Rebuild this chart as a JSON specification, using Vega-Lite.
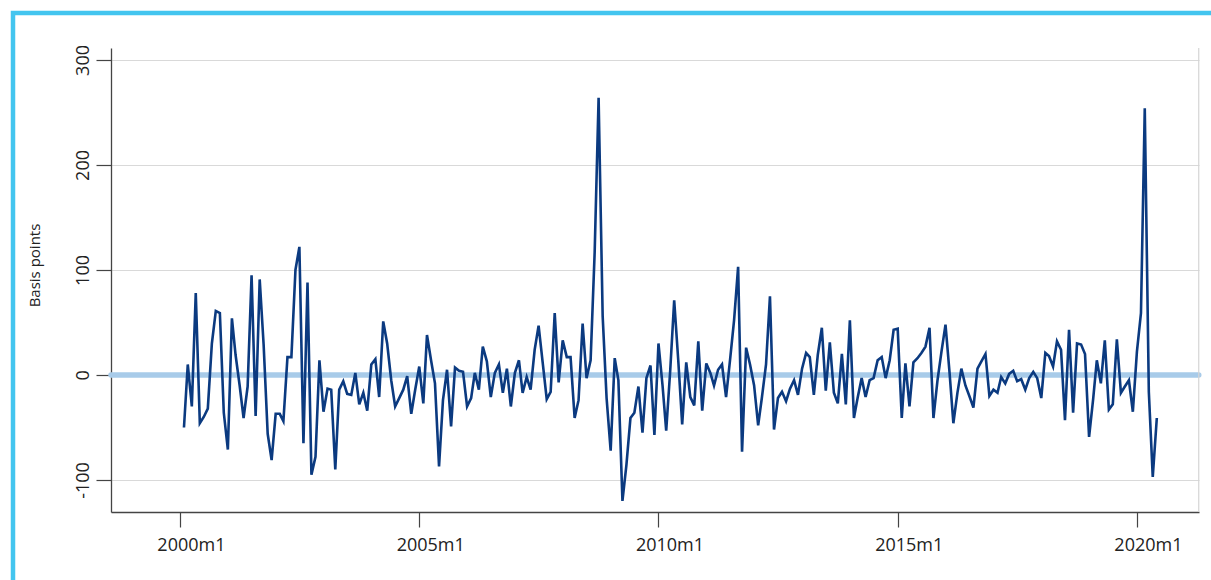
{
  "$schema": "https://vega.github.io/schema/vega-lite/v6.json",
  "width": 1240,
  "height": 600,
  "autosize": {"type": "none"},
  "padding": {"left": 13, "top": 13, "right": -42, "bottom": -33},
  "background": "white",
  "config": {
    "view": {"stroke": "#43c5ef", "strokeWidth": 4.5},
    "font": "Open Sans"
  },
  "layer": [
    {
      "data": {"values": [{"zero": 0}]},
      "mark": {"type": "rule", "color": "#a8cbe9", "strokeWidth": 5.5, "strokeCap": "round"},
      "encoding": {
        "y": {"field": "zero", "type": "quantitative"},
        "x": {"datum": {"year": 1998, "month": 7, "date": 24, "utc": true}, "type": "temporal"},
        "x2": {"datum": {"year": 2021, "month": 4, "date": 17, "utc": true}}
      }
    },
    {
      "data": {"values": [
        {"date": "2000-02-01", "bp": -50}, {"date": "2000-03-01", "bp": 10}, {"date": "2000-04-01", "bp": -30}, {"date": "2000-05-01", "bp": 78}, {"date": "2000-06-01", "bp": -46}, {"date": "2000-07-01", "bp": -40}, {"date": "2000-08-01", "bp": -32}, {"date": "2000-09-01", "bp": 30}, {"date": "2000-10-01", "bp": 61}, {"date": "2000-11-01", "bp": 59}, {"date": "2000-12-01", "bp": -36},
        {"date": "2001-01-01", "bp": -71}, {"date": "2001-02-01", "bp": 54}, {"date": "2001-03-01", "bp": 19}, {"date": "2001-04-01", "bp": -10}, {"date": "2001-05-01", "bp": -41}, {"date": "2001-06-01", "bp": -11}, {"date": "2001-07-01", "bp": 95}, {"date": "2001-08-01", "bp": -39}, {"date": "2001-09-01", "bp": 91}, {"date": "2001-10-01", "bp": 29}, {"date": "2001-11-01", "bp": -56}, {"date": "2001-12-01", "bp": -81},
        {"date": "2002-01-01", "bp": -37}, {"date": "2002-02-01", "bp": -37}, {"date": "2002-03-01", "bp": -44}, {"date": "2002-04-01", "bp": 17}, {"date": "2002-05-01", "bp": 17}, {"date": "2002-06-01", "bp": 100}, {"date": "2002-07-01", "bp": 122}, {"date": "2002-08-01", "bp": -65}, {"date": "2002-09-01", "bp": 88}, {"date": "2002-10-01", "bp": -95}, {"date": "2002-11-01", "bp": -78}, {"date": "2002-12-01", "bp": 14},
        {"date": "2003-01-01", "bp": -35}, {"date": "2003-02-01", "bp": -13}, {"date": "2003-03-01", "bp": -14}, {"date": "2003-04-01", "bp": -90}, {"date": "2003-05-01", "bp": -14}, {"date": "2003-06-01", "bp": -6}, {"date": "2003-07-01", "bp": -18}, {"date": "2003-08-01", "bp": -19}, {"date": "2003-09-01", "bp": 2}, {"date": "2003-10-01", "bp": -28}, {"date": "2003-11-01", "bp": -17}, {"date": "2003-12-01", "bp": -34},
        {"date": "2004-01-01", "bp": 10}, {"date": "2004-02-01", "bp": 15}, {"date": "2004-03-01", "bp": -21}, {"date": "2004-04-01", "bp": 51}, {"date": "2004-05-01", "bp": 30}, {"date": "2004-06-01", "bp": -5}, {"date": "2004-07-01", "bp": -30}, {"date": "2004-08-01", "bp": -22}, {"date": "2004-09-01", "bp": -14}, {"date": "2004-10-01", "bp": -1}, {"date": "2004-11-01", "bp": -37}, {"date": "2004-12-01", "bp": -14},
        {"date": "2005-01-01", "bp": 8}, {"date": "2005-02-01", "bp": -27}, {"date": "2005-03-01", "bp": 38}, {"date": "2005-04-01", "bp": 14}, {"date": "2005-05-01", "bp": -8}, {"date": "2005-06-01", "bp": -87}, {"date": "2005-07-01", "bp": -24}, {"date": "2005-08-01", "bp": 5}, {"date": "2005-09-01", "bp": -49}, {"date": "2005-10-01", "bp": 7}, {"date": "2005-11-01", "bp": 4}, {"date": "2005-12-01", "bp": 3},
        {"date": "2006-01-01", "bp": -30}, {"date": "2006-02-01", "bp": -22}, {"date": "2006-03-01", "bp": 2}, {"date": "2006-04-01", "bp": -14}, {"date": "2006-05-01", "bp": 27}, {"date": "2006-06-01", "bp": 13}, {"date": "2006-07-01", "bp": -21}, {"date": "2006-08-01", "bp": 2}, {"date": "2006-09-01", "bp": 10}, {"date": "2006-10-01", "bp": -17}, {"date": "2006-11-01", "bp": 6}, {"date": "2006-12-01", "bp": -30},
        {"date": "2007-01-01", "bp": 2}, {"date": "2007-02-01", "bp": 14}, {"date": "2007-03-01", "bp": -17}, {"date": "2007-04-01", "bp": -2}, {"date": "2007-05-01", "bp": -14}, {"date": "2007-06-01", "bp": 24}, {"date": "2007-07-01", "bp": 47}, {"date": "2007-08-01", "bp": 12}, {"date": "2007-09-01", "bp": -23}, {"date": "2007-10-01", "bp": -16}, {"date": "2007-11-01", "bp": 59}, {"date": "2007-12-01", "bp": -7},
        {"date": "2008-01-01", "bp": 33}, {"date": "2008-02-01", "bp": 17}, {"date": "2008-03-01", "bp": 17}, {"date": "2008-04-01", "bp": -41}, {"date": "2008-05-01", "bp": -24}, {"date": "2008-06-01", "bp": 49}, {"date": "2008-07-01", "bp": -3}, {"date": "2008-08-01", "bp": 14}, {"date": "2008-09-01", "bp": 117}, {"date": "2008-10-01", "bp": 264}, {"date": "2008-11-01", "bp": 56}, {"date": "2008-12-01", "bp": -22},
        {"date": "2009-01-01", "bp": -72}, {"date": "2009-02-01", "bp": 16}, {"date": "2009-03-01", "bp": -5}, {"date": "2009-04-01", "bp": -120}, {"date": "2009-05-01", "bp": -86}, {"date": "2009-06-01", "bp": -41}, {"date": "2009-07-01", "bp": -36}, {"date": "2009-08-01", "bp": -11}, {"date": "2009-09-01", "bp": -55}, {"date": "2009-10-01", "bp": -3}, {"date": "2009-11-01", "bp": 9}, {"date": "2009-12-01", "bp": -57},
        {"date": "2010-01-01", "bp": 30}, {"date": "2010-02-01", "bp": -10}, {"date": "2010-03-01", "bp": -53}, {"date": "2010-04-01", "bp": 5}, {"date": "2010-05-01", "bp": 71}, {"date": "2010-06-01", "bp": 14}, {"date": "2010-07-01", "bp": -47}, {"date": "2010-08-01", "bp": 12}, {"date": "2010-09-01", "bp": -21}, {"date": "2010-10-01", "bp": -29}, {"date": "2010-11-01", "bp": 32}, {"date": "2010-12-01", "bp": -34},
        {"date": "2011-01-01", "bp": 11}, {"date": "2011-02-01", "bp": 2}, {"date": "2011-03-01", "bp": -10}, {"date": "2011-04-01", "bp": 5}, {"date": "2011-05-01", "bp": 10}, {"date": "2011-06-01", "bp": -21}, {"date": "2011-07-01", "bp": 14}, {"date": "2011-08-01", "bp": 52}, {"date": "2011-09-01", "bp": 103}, {"date": "2011-10-01", "bp": -73}, {"date": "2011-11-01", "bp": 26}, {"date": "2011-12-01", "bp": 10},
        {"date": "2012-01-01", "bp": -10}, {"date": "2012-02-01", "bp": -48}, {"date": "2012-03-01", "bp": -21}, {"date": "2012-04-01", "bp": 10}, {"date": "2012-05-01", "bp": 75}, {"date": "2012-06-01", "bp": -52}, {"date": "2012-07-01", "bp": -22}, {"date": "2012-08-01", "bp": -16}, {"date": "2012-09-01", "bp": -25}, {"date": "2012-10-01", "bp": -13}, {"date": "2012-11-01", "bp": -5}, {"date": "2012-12-01", "bp": -19},
        {"date": "2013-01-01", "bp": 6}, {"date": "2013-02-01", "bp": 21}, {"date": "2013-03-01", "bp": 17}, {"date": "2013-04-01", "bp": -19}, {"date": "2013-05-01", "bp": 19}, {"date": "2013-06-01", "bp": 45}, {"date": "2013-07-01", "bp": -15}, {"date": "2013-08-01", "bp": 31}, {"date": "2013-09-01", "bp": -17}, {"date": "2013-10-01", "bp": -27}, {"date": "2013-11-01", "bp": 20}, {"date": "2013-12-01", "bp": -28},
        {"date": "2014-01-01", "bp": 52}, {"date": "2014-02-01", "bp": -41}, {"date": "2014-03-01", "bp": -22}, {"date": "2014-04-01", "bp": -3}, {"date": "2014-05-01", "bp": -21}, {"date": "2014-06-01", "bp": -5}, {"date": "2014-07-01", "bp": -3}, {"date": "2014-08-01", "bp": 14}, {"date": "2014-09-01", "bp": 17}, {"date": "2014-10-01", "bp": -3}, {"date": "2014-11-01", "bp": 14}, {"date": "2014-12-01", "bp": 43},
        {"date": "2015-01-01", "bp": 44}, {"date": "2015-02-01", "bp": -41}, {"date": "2015-03-01", "bp": 11}, {"date": "2015-04-01", "bp": -30}, {"date": "2015-05-01", "bp": 12}, {"date": "2015-06-01", "bp": 16}, {"date": "2015-07-01", "bp": 21}, {"date": "2015-08-01", "bp": 27}, {"date": "2015-09-01", "bp": 45}, {"date": "2015-10-01", "bp": -41}, {"date": "2015-11-01", "bp": -5}, {"date": "2015-12-01", "bp": 22},
        {"date": "2016-01-01", "bp": 48}, {"date": "2016-02-01", "bp": 2}, {"date": "2016-03-01", "bp": -46}, {"date": "2016-04-01", "bp": -17}, {"date": "2016-05-01", "bp": 6}, {"date": "2016-06-01", "bp": -10}, {"date": "2016-07-01", "bp": -20}, {"date": "2016-08-01", "bp": -31}, {"date": "2016-09-01", "bp": 6}, {"date": "2016-10-01", "bp": 13}, {"date": "2016-11-01", "bp": 20}, {"date": "2016-12-01", "bp": -20},
        {"date": "2017-01-01", "bp": -14}, {"date": "2017-02-01", "bp": -17}, {"date": "2017-03-01", "bp": -2}, {"date": "2017-04-01", "bp": -8}, {"date": "2017-05-01", "bp": 1}, {"date": "2017-06-01", "bp": 4}, {"date": "2017-07-01", "bp": -6}, {"date": "2017-08-01", "bp": -4}, {"date": "2017-09-01", "bp": -14}, {"date": "2017-10-01", "bp": -3}, {"date": "2017-11-01", "bp": 3}, {"date": "2017-12-01", "bp": -3},
        {"date": "2018-01-01", "bp": -22}, {"date": "2018-02-01", "bp": 21}, {"date": "2018-03-01", "bp": 18}, {"date": "2018-04-01", "bp": 8}, {"date": "2018-05-01", "bp": 32}, {"date": "2018-06-01", "bp": 24}, {"date": "2018-07-01", "bp": -43}, {"date": "2018-08-01", "bp": 43}, {"date": "2018-09-01", "bp": -36}, {"date": "2018-10-01", "bp": 30}, {"date": "2018-11-01", "bp": 29}, {"date": "2018-12-01", "bp": 20},
        {"date": "2019-01-01", "bp": -59}, {"date": "2019-02-01", "bp": -23}, {"date": "2019-03-01", "bp": 14}, {"date": "2019-04-01", "bp": -8}, {"date": "2019-05-01", "bp": 33}, {"date": "2019-06-01", "bp": -33}, {"date": "2019-07-01", "bp": -28}, {"date": "2019-08-01", "bp": 34}, {"date": "2019-09-01", "bp": -17}, {"date": "2019-10-01", "bp": -11}, {"date": "2019-11-01", "bp": -5}, {"date": "2019-12-01", "bp": -35},
        {"date": "2020-01-01", "bp": 22}, {"date": "2020-02-01", "bp": 59}, {"date": "2020-03-01", "bp": 254}, {"date": "2020-04-01", "bp": -16}, {"date": "2020-05-01", "bp": -97}, {"date": "2020-06-01", "bp": -41}
      ]},
      "mark": {"type": "line", "color": "#0b3a80", "strokeWidth": 2.6},
      "encoding": {
        "x": {
          "field": "date",
          "type": "temporal",
          "scale": {
            "type": "utc",
            "domain": [{"year": 1998, "month": 7, "date": 24, "utc": true}, {"year": 2021, "month": 4, "date": 19, "utc": true}],
            "range": [98, 1186],
            "nice": false
          },
          "axis": {
            "orient": "bottom",
            "offset": -101,
            "title": null,
            "grid": false,
            "values": [
              {"year": 2000, "month": 1, "date": 1, "utc": true},
              {"year": 2005, "month": 1, "date": 1, "utc": true},
              {"year": 2010, "month": 1, "date": 1, "utc": true},
              {"year": 2015, "month": 1, "date": 1, "utc": true},
              {"year": 2020, "month": 1, "date": 1, "utc": true}
            ],
            "labelExpr": "utcFormat(datum.value, '%Y') + 'm1'",
            "tickSize": 15,
            "tickColor": "#444444",
            "tickWidth": 1.2,
            "domainColor": "#444444",
            "domainWidth": 1.3,
            "labelFont": "Open Sans",
            "labelFontSize": 18,
            "labelColor": "#222222",
            "labelPadding": 9,
            "labelOffset": 11,
            "labelFlush": false,
            "labelOverlap": false
          }
        },
        "y": {
          "field": "bp",
          "type": "quantitative",
          "scale": {"domain": [-130.5, 311.4], "range": [499, 35], "nice": false, "zero": false},
          "axis": {
            "orient": "left",
            "offset": -98,
            "values": [-100, 0, 100, 200, 300],
            "labelExpr": "datum.value < 0 ? '-' + abs(datum.value) : '' + datum.value",
            "title": "Basis points",
            "labelAngle": -90,
            "labelAlign": "center",
            "labelBaseline": "bottom",
            "labelPadding": 4,
            "labelFont": "Open Sans",
            "labelFontSize": 18,
            "labelColor": "#222222",
            "tickSize": 15,
            "tickColor": "#444444",
            "tickWidth": 1.2,
            "domainColor": "#444444",
            "domainWidth": 1.3,
            "grid": true,
            "gridColor": "#d9d9d9",
            "gridWidth": 1.2,
            "titleFont": "Open Sans",
            "titleFontSize": 15,
            "titleFontWeight": "normal",
            "titleColor": "#222222",
            "titleAngle": -90,
            "titleX": -77,
            "titleY": 252,
            "titleAlign": "center",
            "titleBaseline": "middle"
          }
        }
      }
    },
    {
      "data": {"values": [{"top": 311.4, "bottom": -130.5}]},
      "mark": {"type": "rule", "color": "#d4d4d4", "strokeWidth": 1.2},
      "encoding": {
        "x": {"datum": {"year": 2021, "month": 4, "date": 17, "utc": true}, "type": "temporal"},
        "y": {"field": "top", "type": "quantitative"},
        "y2": {"field": "bottom"}
      }
    }
  ]
}
